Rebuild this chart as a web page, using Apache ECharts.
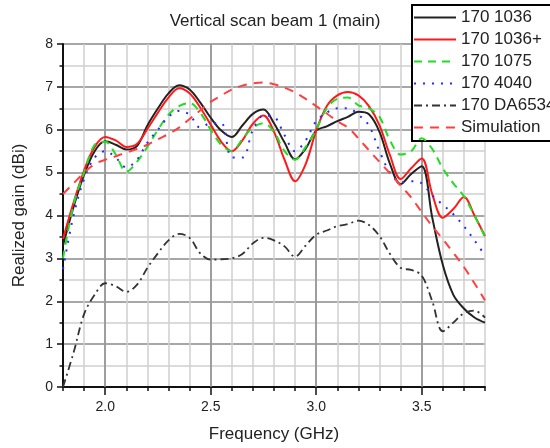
<!DOCTYPE html>
<html>
<head>
<meta charset="utf-8">
<script src="https://cdn.jsdelivr.net/npm/echarts@6/dist/echarts.min.js"></script>
<style>
  html, body { margin: 0; padding: 0; background: #fff; }
  #chart { width: 550px; height: 448px; }
</style>
</head>
<body>
<div id="chart"></div>
<script>
// Frequency sample points (GHz)
const freq = [1.80, 1.85, 1.90, 1.95, 2.00, 2.05, 2.10, 2.15, 2.20, 2.25,
              2.30, 2.35, 2.40, 2.45, 2.50, 2.55, 2.60, 2.65, 2.70, 2.75,
              2.80, 2.85, 2.90, 2.95, 3.00, 3.05, 3.10, 3.15, 3.20, 3.25,
              3.30, 3.35, 3.40, 3.45, 3.50, 3.55, 3.60, 3.65, 3.70, 3.75, 3.80];

// Realized gain (dBi) per antenna
const gain1036 = [3.30, 4.20, 4.95, 5.50, 5.73, 5.65, 5.54, 5.62, 6.10, 6.50,
                  6.85, 7.04, 6.94, 6.64, 6.28, 5.98, 5.83, 6.10, 6.37, 6.47,
                  6.15, 5.70, 5.31, 5.56, 5.98, 6.08, 6.20, 6.30, 6.42, 6.36,
                  5.95, 5.20, 4.73, 4.97, 5.15, 3.95, 2.85, 2.15, 1.83, 1.62, 1.50];
const gain1036p = [3.45, 4.30, 5.05, 5.60, 5.83, 5.75, 5.60, 5.67, 6.02, 6.40,
                   6.75, 6.97, 6.85, 6.52, 6.12, 5.72, 5.50, 5.75, 6.14, 6.33,
                   5.95, 5.30, 4.80, 5.20, 5.98, 6.55, 6.80, 6.88, 6.80, 6.55,
                   6.10, 5.40, 4.85, 5.10, 5.33, 4.50, 3.95, 4.15, 4.43, 4.00, 3.52];
const gain1075 = [3.00, 4.25, 5.00, 5.65, 5.72, 5.42, 5.02, 5.25, 5.60, 6.00,
                  6.35, 6.55, 6.62, 6.40, 6.00, 5.65, 5.50, 5.78, 6.05, 6.15,
                  5.95, 5.50, 5.30, 5.60, 6.00, 6.50, 6.72, 6.75, 6.57, 6.50,
                  6.30, 5.75, 5.42, 5.50, 5.80, 5.55, 5.10, 4.75, 4.45, 4.00, 3.50];
const gain4040 = [2.75, 4.00, 4.85, 5.35, 5.50, 5.35, 5.12, 5.30, 5.70, 6.00,
                  6.30, 6.44, 6.35, 6.05, 6.15, 6.15, 5.35, 5.35, 6.00, 6.33,
                  6.30, 5.87, 5.50, 5.75, 6.20, 6.40, 6.50, 6.50, 6.35, 6.10,
                  5.50, 5.00, 4.78, 4.80, 4.75, 4.47, 4.25, 4.03, 3.75, 3.42, 3.07];
const gainDA6534 = [0.00, 0.80, 1.70, 2.15, 2.42, 2.35, 2.22, 2.38, 2.78, 3.12,
                    3.42, 3.57, 3.48, 3.12, 2.97, 2.98, 3.00, 3.10, 3.35, 3.48,
                    3.42, 3.28, 3.04, 3.30, 3.55, 3.65, 3.75, 3.80, 3.88, 3.78,
                    3.52, 3.10, 2.78, 2.73, 2.60, 2.00, 1.30, 1.50, 1.72, 1.78, 1.62];
const gainSim = [4.50, 4.75, 5.00, 5.20, 5.30, 5.38, 5.47, 5.55, 5.65, 5.78,
                 5.90, 6.05, 6.25, 6.45, 6.65, 6.80, 6.94, 7.03, 7.08, 7.10,
                 7.06, 6.98, 6.87, 6.72, 6.55, 6.38, 6.20, 6.05, 5.80, 5.52,
                 5.25, 4.98, 4.70, 4.42, 4.08, 3.75, 3.45, 3.13, 2.80, 2.42, 2.02];

// Axis ticks
const xMajorTicks = [2.0, 2.5, 3.0, 3.5];
const seriesNames = ['170 1036', '170 1036+', '170 1075', '170 4040', '170 DA6534', 'Simulation'];

const FONT = '"Liberation Sans", Arial, Helvetica, sans-serif';
const TEXT = '#222';
const MAJOR_GRID = '#8a8a8a';
const MINOR_GRID = '#cfcfcf';

function pairs(values) {
  return freq.map((f, i) => [f, values[i]]);
}

function curve(name, values, color, width, dash, z) {
  return {
    name: name,
    type: 'line',
    data: pairs(values),
    xAxisIndex: 0,
    yAxisIndex: 0,
    symbol: 'none',
    showSymbol: false,
    smooth: 0.35,
    z: z,
    itemStyle: { color: color },
    lineStyle: { color: color, width: width, type: dash },
    emphasis: { disabled: true }
  };
}

const chart = echarts.init(document.getElementById('chart'), null, { renderer: 'canvas' });

const option = {
  animation: false,
  backgroundColor: '#fff',
  textStyle: { fontFamily: FONT },
  title: {
    text: 'Vertical scan beam 1 (main)',
    left: 'center',
    top: 8,
    textStyle: { fontFamily: FONT, fontSize: 17, fontWeight: 'normal', color: TEXT }
  },
  grid: { left: 63, right: 65, top: 44, bottom: 57 },
  legend: {
    orient: 'vertical',
    left: 412,
    top: 5,
    padding: [4, 14, 5, 1],
    itemWidth: 42,
    itemHeight: 14,
    itemGap: 5,
    backgroundColor: '#fff',
    borderColor: '#000',
    borderWidth: 2,
    borderRadius: 0,
    selectedMode: false,
    itemStyle: { opacity: 0 },
    textStyle: { fontFamily: FONT, fontSize: 17, color: TEXT },
    data: seriesNames
  },
  xAxis: [
    {
      type: 'value',
      min: 1.8,
      max: 3.8,
      interval: 0.1,
      position: 'bottom',
      axisLine: { show: true, onZero: false, lineStyle: { color: '#111', width: 2 } },
      axisTick: { show: true, length: 4, lineStyle: { color: '#111', width: 1.5 } },
      axisLabel: { show: false },
      splitLine: { show: true, lineStyle: { color: MINOR_GRID, width: 1.5 } },
      name: 'Frequency (GHz)',
      nameLocation: 'middle',
      nameGap: 39,
      nameTextStyle: { fontFamily: FONT, fontSize: 17, color: TEXT }
    },
    {
      type: 'value',
      min: 1.8,
      max: 3.8,
      position: 'bottom',
      axisLine: { show: false },
      axisTick: { show: true, length: 8, customValues: xMajorTicks, lineStyle: { color: '#111', width: 1.5 } },
      axisLabel: {
        show: true,
        customValues: xMajorTicks,
        margin: 13,
        fontFamily: FONT,
        fontSize: 14,
        color: TEXT,
        formatter: v => Number(v).toFixed(1)
      },
      splitLine: { show: false }
    }
  ],
  yAxis: {
    type: 'value',
    min: 0,
    max: 8,
    interval: 1,
    axisLine: { show: true, onZero: false, lineStyle: { color: '#111', width: 2 } },
    axisTick: { show: true, length: 6, lineStyle: { color: '#111', width: 1.5 } },
    minorTick: { show: true, splitNumber: 2, length: 3.5, lineStyle: { color: '#111', width: 1.5 } },
    axisLabel: { fontFamily: FONT, fontSize: 14, color: TEXT, margin: 10 },
    splitLine: { show: true, lineStyle: { color: MAJOR_GRID, width: 1.5 } },
    minorSplitLine: { show: true, lineStyle: { color: MINOR_GRID, width: 1.5 } },
    name: 'Realized gain (dBi)',
    nameLocation: 'middle',
    nameGap: 35,
    nameTextStyle: { fontFamily: FONT, fontSize: 17, color: TEXT }
  },
  series: [
    {
      // darker vertical grid lines every 0.5 GHz
      name: 'grid-major',
      type: 'line',
      data: [],
      xAxisIndex: 0,
      yAxisIndex: 0,
      markLine: {
        silent: true,
        symbol: 'none',
        z: 1,
        animation: false,
        label: { show: false },
        lineStyle: { color: MAJOR_GRID, width: 1.5, type: 'solid' },
        data: xMajorTicks.map(v => ({ xAxis: v }))
      }
    },
    curve('170 1036', gain1036, '#222222', 2, 'solid', 3),
    curve('170 1036+', gain1036p, '#ff1a1a', 2, 'solid', 4),
    curve('170 1075', gain1075, '#22dd22', 2, [8, 6], 5),
    curve('170 4040', gain4040, '#2a2aff', 2, [2, 7], 5),
    curve('170 DA6534', gainDA6534, '#333333', 1.8, [8, 4, 2, 4], 5),
    curve('Simulation', gainSim, '#ff4040', 2, [9, 7], 6)
  ]
};

chart.setOption(option);
</script>
</body>
</html>
